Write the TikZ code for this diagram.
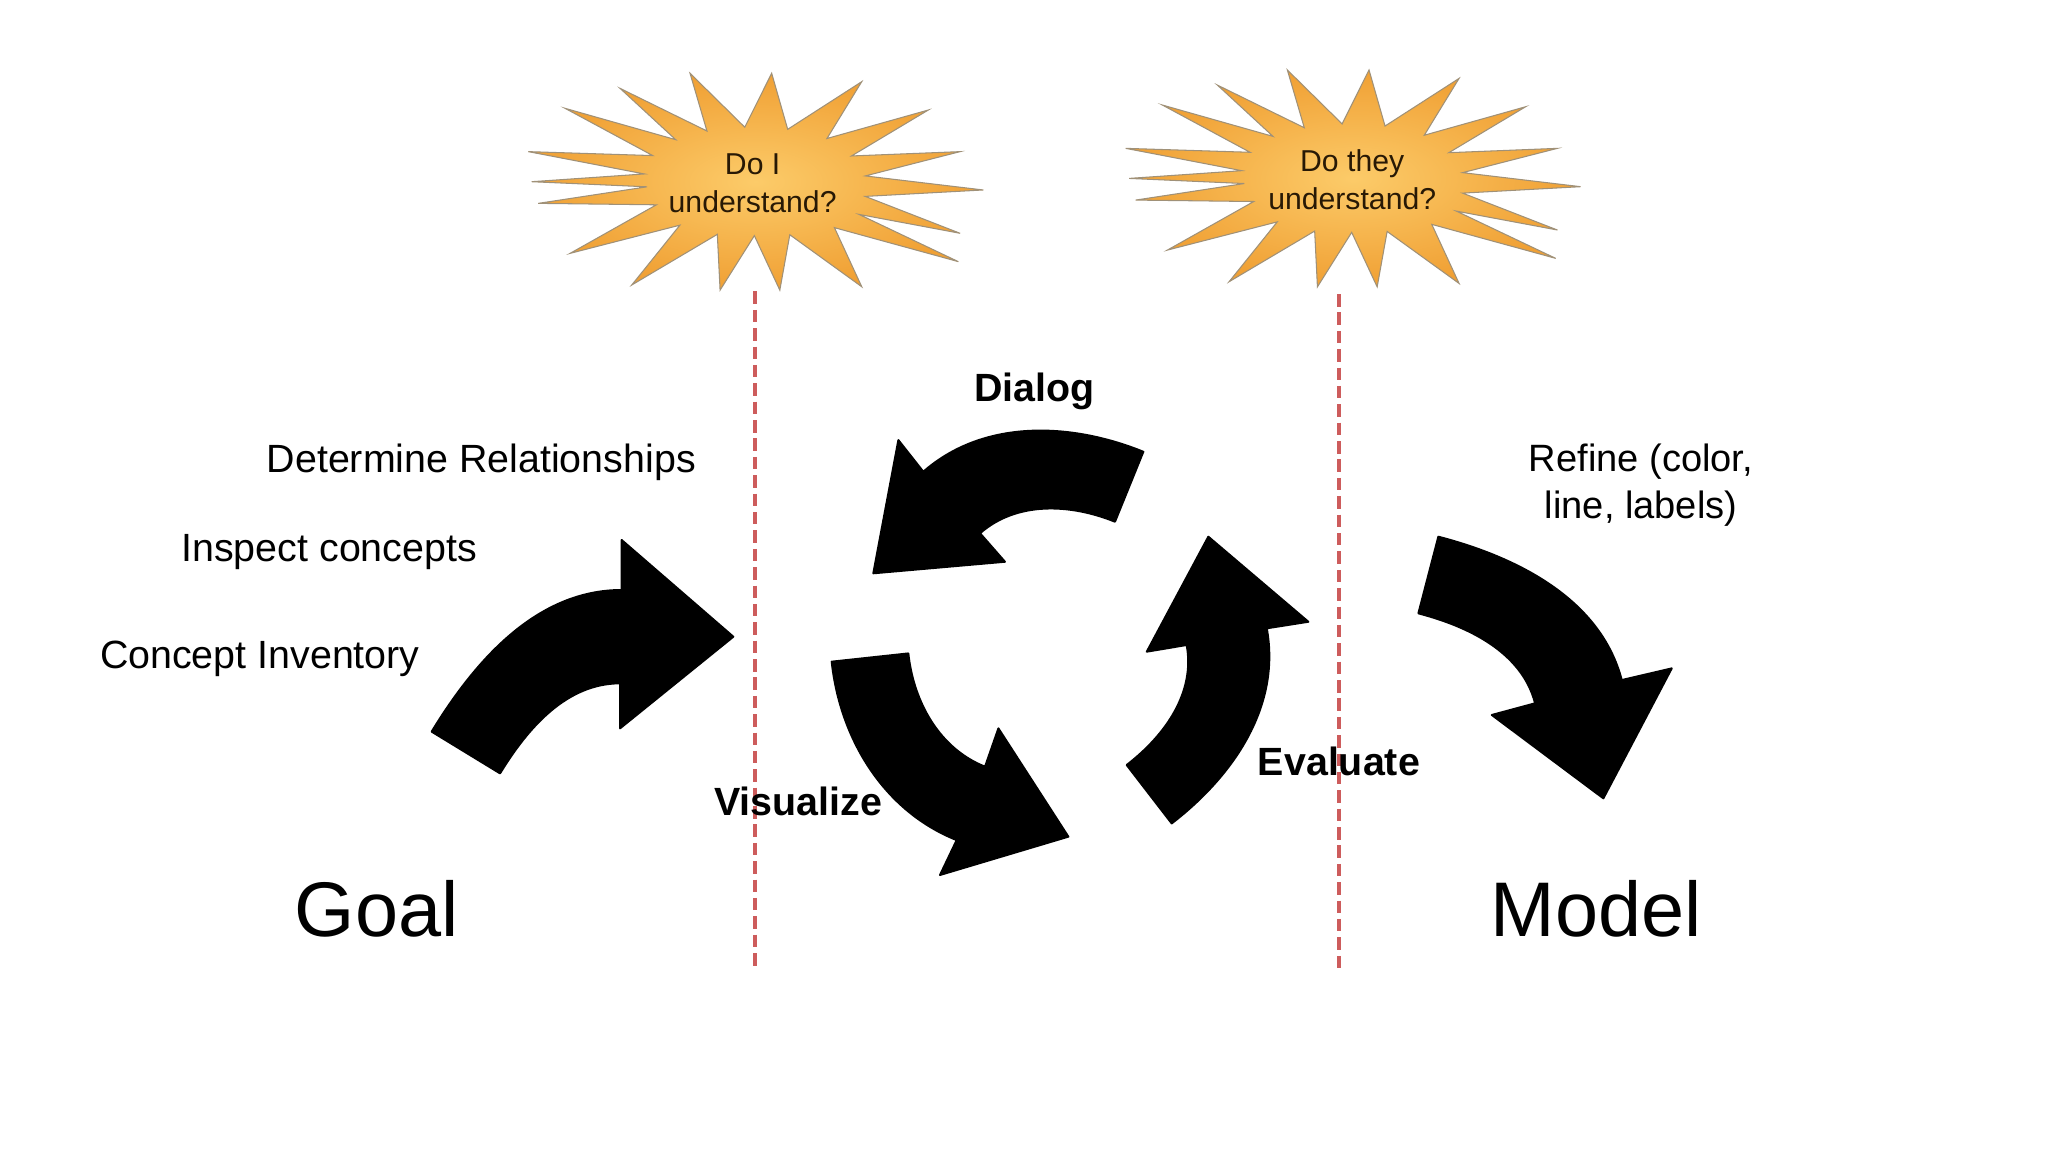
\documentclass[tikz,border=0pt]{standalone}
\usepackage{fontspec}
\setmainfont{Liberation Sans}
\definecolor{burstin}{RGB}{252,203,105}
\definecolor{burstout}{RGB}{240,160,52}
\definecolor{burstedge}{RGB}{160,145,120}
\definecolor{guidered}{RGB}{205,92,92}
\definecolor{qbrown}{RGB}{40,25,5}
\tikzset{
  burst/.pic={
    \shadedraw[inner color=burstin,outer color=burstout,draw=burstedge,line width=0.8pt,line join=miter]
      (-52.4,-82.2) -- (-10.7,-41.1) -- (9.8,-82.2) -- (22,-39.5) --
      (78.4,-75.8) -- (51.9,-32.5) -- (129.1,-54.2) -- (70.6,-19.2) --
      (153.3,-22.5) -- (81.1,-4) -- (171,6.7) -- (81.1,11.6) --
      (153.3,39.7) -- (76.3,25.3) -- (152,61.3) -- (57.6,35.4) --
      (78.4,80.4) -- (23.6,40.8) -- (16,83) -- (-3.4,41.5) --
      (-29.5,83) -- (-31.6,40.5) -- (-96.8,79.1) -- (-60.1,33.5) --
      (-143.8,55) -- (-78,18) -- (-168,16.9) -- (-85.2,4.3) --
      (-173,0.4) -- (-87.2,-5.5) -- (-175.6,-22.5) -- (-80.8,-19.5) --
      (-147.6,-55.5) -- (-63.3,-31.6) -- (-105.7,-70.7) -- (-39.5,-38.2) -- cycle;
  }
}
\begin{document}
\begin{tikzpicture}[x=1pt,y=-1pt,
  blockarrow/.style={fill=black,draw=black,line width=1.5pt,line join=round},
  guide/.style={draw=guidered,line width=3.5pt,dash pattern=on 9.5pt off 4.5pt},
  plain/.style={font=\fontsize{30}{36}\selectfont,inner sep=0pt},
  stage/.style={font=\bfseries\fontsize{30}{36}\selectfont,inner sep=0pt},
  bigword/.style={font=\fontsize{59}{70}\selectfont,inner sep=0pt},
  qtext/.style={font=\fontsize{23}{29}\selectfont,inner sep=0pt,align=center,text=qbrown}]
\useasboundingbox (0,0) rectangle (1560,876);
\fill[white] (0,0) rectangle (1560,876);

% guide lines
\coordinate (g1top) at (575,222);
\coordinate (g1bot) at (575,740);
\coordinate (g2top) at (1020,224);
\coordinate (g2bot) at (1020,742);
\draw[guide] (g1top) -- (g1bot);
\draw[guide] (g2top) -- (g2bot);

% bursts
\pic (b1) at (578,138) {burst};
\pic (b2) at (1033,135.5) {burst};
\node[qtext,anchor=north] (q1) at (573.3,116.8) {Do I\\understand?};
\node[qtext,anchor=north] (q2) at (1030,114) {Do they\\understand?};

% left labels
\node[plain,anchor=base west] (det) at (203,360) {Determine Relationships};
\node[plain,anchor=base west] (insp) at (138,428) {Inspect concepts};
\node[plain,anchor=base west] (inv) at (76,509) {Concept Inventory};
\node[plain,anchor=north,align=center,font=\fontsize{29}{36}\selectfont] (ref) at (1250,338) {Refine (color,\\line, labels)};

% stage labels
\node[stage,anchor=base] (dlg) at (788,306) {Dialog};
\node[stage,anchor=base east] (vis) at (672,621) {Visualize};
\node[stage,anchor=base west] (eva) at (958,591) {Evaluate};

\node[bigword,anchor=base] (goal) at (287,713) {Goal};
\node[bigword,anchor=base] (model) at (1216,713) {Model};

% block arrows
\path[blockarrow] (328.8,557.3) .. controls (362.3,502.4) and (409.2,449.4) .. (473.5,449.4)
  -- (473.5,411.3) -- (558.6,485) -- (472.3,554.8) -- (472.3,520.5)
  .. controls (431.6,520.5) and (402.1,554.3) .. (380.9,589.1) -- cycle;
\path[blockarrow] (870.9,344.1) .. controls (814.8,321.4) and (748.8,319.4) .. (703.3,359.3)
  -- (684.3,335.2) -- (665.2,436.7) -- (765.5,427.9) -- (746.5,406.2)
  .. controls (774.3,381.8) and (815,383.5) .. (849.3,397.4) -- cycle;
\path[blockarrow] (633.5,504) .. controls (639.9,563.2) and (673.4,617.9) .. (728.7,639.9)
  -- (716,666.5) -- (813.8,637.3) -- (760.5,554.8) -- (750.3,584)
  .. controls (715.6,570.2) and (695.9,534.9) .. (691.9,497.7) -- cycle;
\path[blockarrow] (892.5,627.2) .. controls (940,590.6) and (975.8,537.6) .. (964.9,478.6)
  -- (996.6,473.6) -- (920.4,408.8) -- (873.5,496.4) -- (903.9,491.3)
  .. controls (910.6,527.7) and (887.5,560.1) .. (858.2,582.7) -- cycle;
\path[blockarrow] (1095.6,408.8) .. controls (1156.8,424.7) and (1219.4,456.8) .. (1235.3,518)
  -- (1273.4,509.1) -- (1221.3,608.1) -- (1136.3,544.6) -- (1169.3,535.7)
  .. controls (1159.3,497) and (1119.1,477.3) .. (1080.4,467.2) -- cycle;
\end{tikzpicture}
\end{document}
